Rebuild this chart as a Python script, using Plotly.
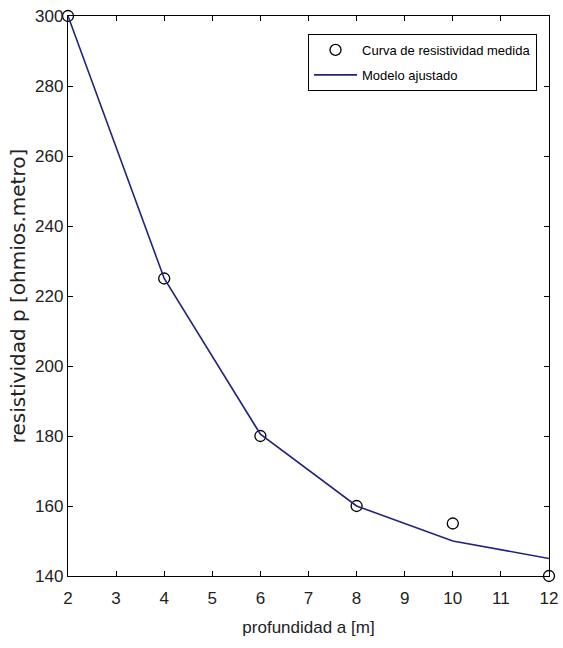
import plotly.graph_objects as go

profundidad = [2, 4, 6, 8, 10, 12]
resistividad_medida = [300, 225, 180, 160, 155, 140]
modelo_ajustado = [300, 225, 180.5, 160, 150, 145]
x_ticks = [2, 3, 4, 5, 6, 7, 8, 9, 10, 11, 12]
y_ticks = [140, 160, 180, 200, 220, 240, 260, 280, 300]

FONT = "Liberation Sans, Arial"

fig = go.Figure()
fig.add_trace(go.Scatter(
    x=profundidad, y=resistividad_medida, mode="markers",
    name="Curva de resistividad medida", legendgroup="a",
    marker=dict(symbol="circle-open", size=11, color="black", line=dict(width=1.3)),
    cliponaxis=False,
))
fig.add_trace(go.Scatter(
    x=profundidad, y=modelo_ajustado, mode="lines",
    name="Modelo ajustado", legendgroup="b",
    line=dict(color="#23237f", width=1.6),
))

axis_common = dict(
    showgrid=False, zeroline=False, showline=True, linecolor="black", linewidth=1.3,
    mirror="ticks", ticks="inside", ticklen=5, tickcolor="black", tickwidth=1,
    tickfont=dict(family=FONT, size=17, color="#222"), automargin=False,
)
fig.update_xaxes(range=[2, 12], tickvals=x_ticks, ticklabelstandoff=6,
                 title=dict(text="profundidad a [m]", font=dict(family=FONT, size=17, color="#222"), standoff=14),
                 **axis_common)
fig.update_yaxes(range=[140, 300], tickvals=y_ticks,
                 title=dict(text="resistividad p [ohmios.metro]", font=dict(family="DejaVu Sans", size=20, color="#222"), standoff=4),
                 **axis_common)

fig.update_layout(
    width=563, height=648,
    margin=dict(l=68, r=14, t=16, b=72),
    paper_bgcolor="white", plot_bgcolor="white",
    showlegend=True,
    legend=dict(
        x=0.499, y=0.9679, xanchor="left", yanchor="top",
        bgcolor="white", bordercolor="black", borderwidth=1,
        font=dict(family=FONT, size=13, color="black"),
        tracegroupgap=5, itemwidth=43,
    ),
)

fig.write_html("out.html")
